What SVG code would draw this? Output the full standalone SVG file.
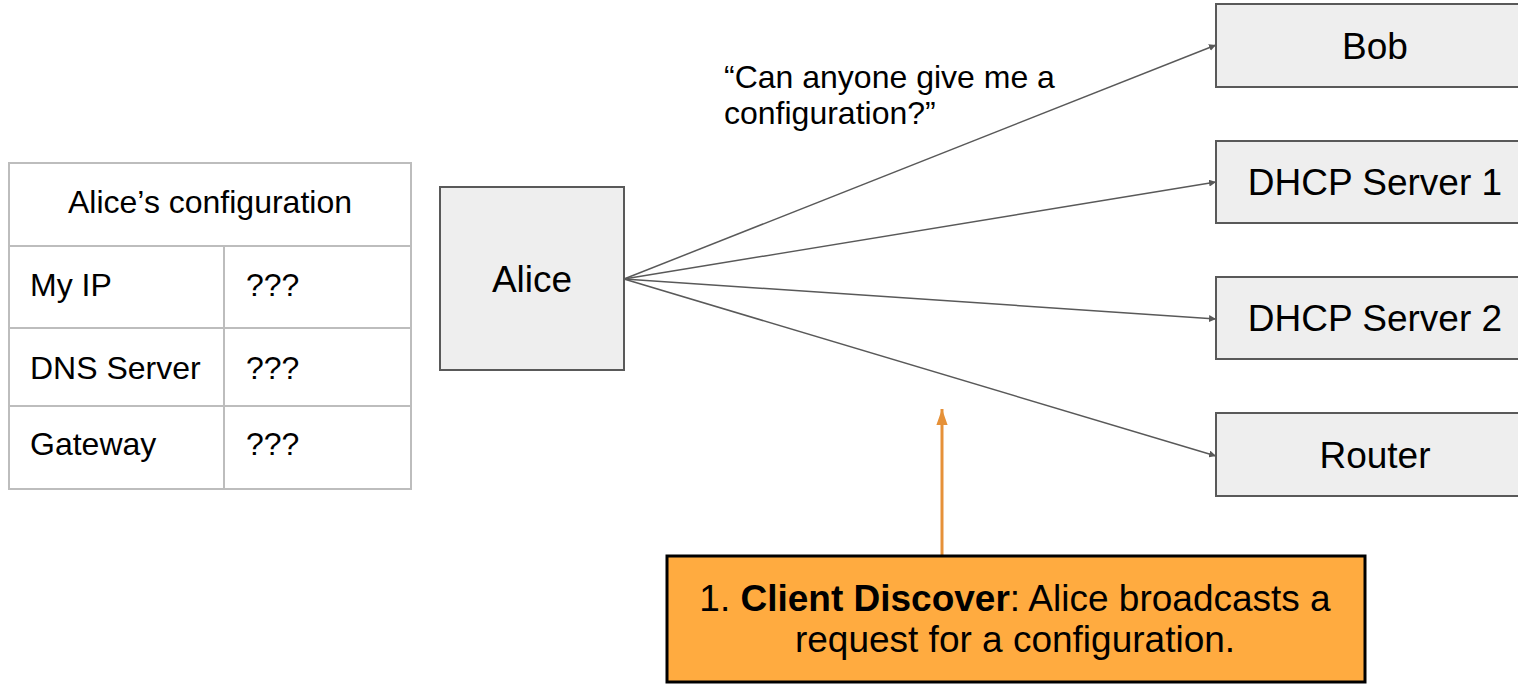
<svg xmlns="http://www.w3.org/2000/svg" width="1518" height="684" viewBox="0 0 1518 684">
<style>
text{font-family:"Liberation Sans",Arial,sans-serif;fill:#000}
.box{fill:#eeeeee;stroke:#595959;stroke-width:2}
.lbl{font-size:37px;text-anchor:middle}
.cell{fill:none;stroke:#bdbdbd;stroke-width:2}
.tt{font-size:32px}
.conn{stroke:#595959;stroke-width:1.5;fill:none;marker-end:url(#ah)}
</style>
<defs>
<marker id="ah" viewBox="0 0 10 10" refX="10" refY="5" markerWidth="7" markerHeight="7" markerUnits="userSpaceOnUse" orient="auto"><path d="M0,0 L10,5 L0,10 z" fill="#595959"/></marker>
<marker id="oh" viewBox="0 0 10 10" refX="10" refY="5" markerWidth="16" markerHeight="16" markerUnits="userSpaceOnUse" orient="auto"><path d="M0,1.5 L10,5 L0,8.5 z" fill="#e69138"/></marker>
</defs>
<g id="table">
<rect class="cell" x="9" y="163" width="402" height="326"/>
<line class="cell" x1="9" y1="246" x2="411" y2="246"/>
<line class="cell" x1="9" y1="328" x2="411" y2="328"/>
<line class="cell" x1="9" y1="406" x2="411" y2="406"/>
<line class="cell" x1="224" y1="246" x2="224" y2="489"/>
<text class="tt" x="210" y="213" text-anchor="middle">Alice’s configuration</text>
<text class="tt" x="30" y="296">My IP</text>
<text class="tt" x="246" y="296">???</text>
<text class="tt" x="30" y="379">DNS Server</text>
<text class="tt" x="246" y="379">???</text>
<text class="tt" x="30" y="455">Gateway</text>
<text class="tt" x="246" y="455">???</text>
</g>
<g id="alice">
<rect class="box" x="440" y="187" width="184" height="183"/>
<text class="lbl" x="532" y="292">Alice</text>
</g>
<g id="bob">
<rect class="box" x="1216" y="4" width="310" height="83"/>
<text class="lbl" x="1375" y="59">Bob</text>
</g>
<g id="dhcp1">
<rect class="box" x="1216" y="141" width="310" height="82"/>
<text class="lbl" x="1375" y="195">DHCP Server 1</text>
</g>
<g id="dhcp2">
<rect class="box" x="1216" y="277" width="310" height="82"/>
<text class="lbl" x="1375" y="331">DHCP Server 2</text>
</g>
<g id="router">
<rect class="box" x="1216" y="413" width="310" height="83"/>
<text class="lbl" x="1375" y="468">Router</text>
</g>
<g id="quote">
<text x="724" y="88" font-size="32">“Can anyone give me a</text>
<text x="724" y="124" font-size="32">configuration?”</text>
</g>
<g id="connectors">
<line class="conn" x1="624" y1="279" x2="1216" y2="45"/>
<line class="conn" x1="624" y1="279" x2="1216" y2="182"/>
<line class="conn" x1="624" y1="279" x2="1216" y2="319"/>
<line class="conn" x1="624" y1="279" x2="1216" y2="456"/>
<line x1="942" y1="555" x2="942" y2="409" stroke="#e69138" stroke-width="3" marker-end="url(#oh)"/>
</g>
<g id="step">
<rect x="667" y="556" width="698" height="126" fill="#ffab40" stroke="#000" stroke-width="3"/>
<text x="1015" y="611" font-size="37" text-anchor="middle">1. <tspan font-weight="bold">Client Discover</tspan>: Alice broadcasts a</text>
<text x="1015" y="652" font-size="37" text-anchor="middle">request for a configuration.</text>
</g>
</svg>
